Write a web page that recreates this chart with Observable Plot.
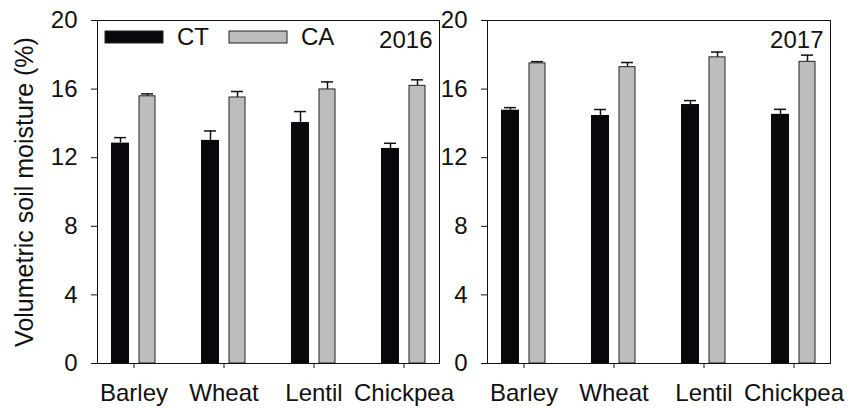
<!DOCTYPE html>
<html>
<head>
<meta charset="utf-8">
<script src="https://cdn.jsdelivr.net/npm/d3@7"></script>
<script src="https://cdn.jsdelivr.net/npm/@observablehq/plot@0.6"></script>
<style>
  html, body { margin: 0; padding: 0; background: #fff; }
  #wrap { position: relative; width: 853px; height: 408px; display: flex; font-family: "Liberation Sans", Arial, sans-serif; }
  #wrap > svg { flex: none; }
  #legend { position: absolute; left: 105px; top: 20px; }
  #legend .lg-swatch { margin-right: 20px !important; }
  #legend .lg-swatch > svg { margin-right: 14px !important; }
  #legend svg rect { stroke: #222; stroke-width: 1; }
</style>
</head>
<body>
<div id="wrap"><div id="legend"></div></div>
<script>
const crops = ["Barley", "Wheat", "Lentil", "Chickpea"];
const treatments = ["CT", "CA"];
const years = ["2016", "2017"];
const yTicks = [0, 4, 8, 12, 16, 20];

const ct2016 = [12.85, 13.01, 14.05, 12.54];
const ct2016se = [0.32, 0.55, 0.64, 0.30];
const ca2016 = [15.58, 15.51, 15.98, 16.19];
const ca2016se = [0.14, 0.35, 0.44, 0.35];

const ct2017 = [14.77, 14.46, 15.10, 14.53];
const ct2017se = [0.15, 0.35, 0.23, 0.29];
const ca2017 = [17.50, 17.28, 17.85, 17.59];
const ca2017se = [0.10, 0.27, 0.31, 0.39];

const colors = ["#08080c", "#bdbdbd"];
const font = "'Liberation Sans', Arial, Helvetica, sans-serif";

function rows(vals, ses, treatment) {
  return crops.map((c, i) => ({crop: c, treatment, value: vals[i], se: ses[i], top: vals[i] + ses[i]}));
}

function panel(year, ctRows, caRows, opts) {
  return Plot.plot({
    width: opts.width,
    height: 408,
    marginLeft: opts.marginLeft,
    marginRight: opts.marginRight,
    marginTop: 20,
    marginBottom: 45,
    style: {fontSize: "24px", fontFamily: font, color: "#111", background: "transparent", overflow: "visible"},
    x: {domain: crops, paddingInner: 0.5, paddingOuter: 0.15, tickSize: 5, tickPadding: 15, label: null},
    y: {domain: [0, 20], ticks: yTicks, tickSize: 6, tickPadding: 14,
        label: opts.ylabel, labelAnchor: "center", labelOffset: 82, labelArrow: "none"},
    marks: [
      Plot.ruleX(ctRows, {x: "crop", y1: "value", y2: "top", dx: -13.5, stroke: "#111", strokeWidth: 1.5}),
      Plot.tickY(ctRows, {x: "crop", y: "top", insetLeft: 3, insetRight: 30, stroke: "#111", strokeWidth: 1.5}),
      Plot.ruleX(caRows, {x: "crop", y1: "value", y2: "top", dx: 13.5, stroke: "#111", strokeWidth: 1.5}),
      Plot.tickY(caRows, {x: "crop", y: "top", insetLeft: 30, insetRight: 3, stroke: "#111", strokeWidth: 1.5}),
      Plot.barY(ctRows, {x: "crop", y: "value", fill: colors[0], insetLeft: 0, insetRight: 27}),
      Plot.barY(caRows, {x: "crop", y: "value", fill: colors[1], stroke: "#222", strokeWidth: 1, insetLeft: 28, insetRight: 1}),
      Plot.text([year], {text: d => d, frameAnchor: "top-right", textAnchor: "end", lineAnchor: "top", dx: -7, dy: 10, fontSize: 24}),
      Plot.frame({stroke: "#111", strokeWidth: 1})
    ]
  });
}

const left = panel(years[0], rows(ct2016, ct2016se, "CT"), rows(ca2016, ca2016se, "CA"),
  {width: 440, marginLeft: 97, marginRight: 1, ylabel: "Volumetric soil moisture (%)"});
const right = panel(years[1], rows(ct2017, ct2017se, "CT"), rows(ca2017, ca2017se, "CA"),
  {width: 413, marginLeft: 47, marginRight: 23, ylabel: null});

const wrap = document.getElementById("wrap");
wrap.appendChild(left);
wrap.appendChild(right);
left.style.position = "relative";
left.style.zIndex = "1";
const yLabel = left.querySelector("g[aria-label='y-axis label'] text");
if (yLabel) yLabel.setAttribute("font-size", "25");

const legend = Plot.legend({
  color: {domain: treatments, range: colors},
  legend: "swatches",
  swatchWidth: 58,
  swatchHeight: 12,
  className: "lg",
  style: {fontSize: "24px", fontFamily: font, color: "#111"}
});
document.getElementById("legend").appendChild(legend);
document.getElementById("legend").style.zIndex = "2";
</script>
</body>
</html>
